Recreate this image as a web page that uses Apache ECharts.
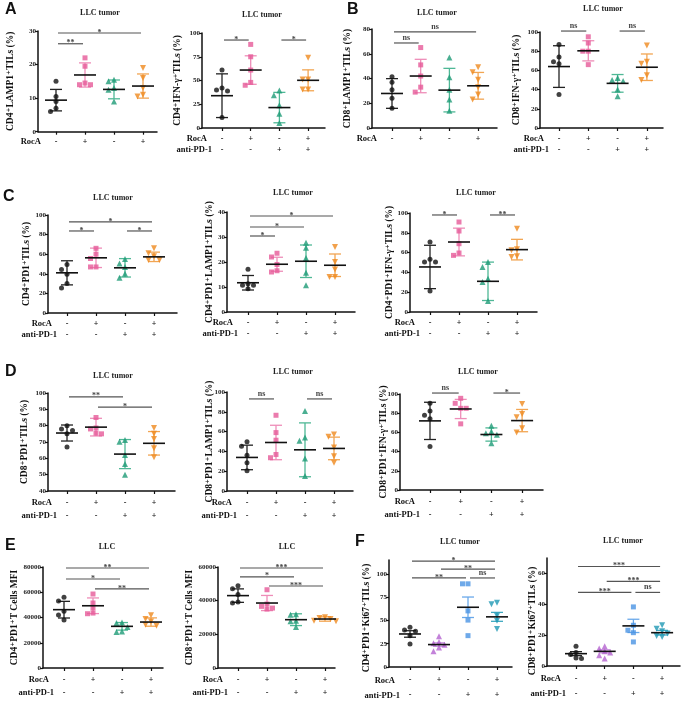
<!DOCTYPE html>
<html><head><meta charset="utf-8">
<script src="https://cdn.jsdelivr.net/npm/echarts@6/dist/echarts.min.js"></script>
<style>html,body{margin:0;padding:0;background:#fff}#c{width:685px;height:702px}</style>
</head><body><div id="c"></div>
<script>
// ---------- shared labels ----------
const rocA = ['-', '+', '-', '+'];
const antiPD1 = ['-', '-', '+', '+'];

// ---------- A (left) ----------
const A1_pts = [[15, 10.5, 9, 7, 6], [22, 19.5, 14, 14, 14.5], [15.5, 15, 13, 12.5, 9], [19, 16, 13, 11, 10.5]];
const A1_mean = [9.4, 16.9, 12.6, 13.6];
const A1_err = [3.2, 3.6, 2.8, 3.6];
const A1_sig = [[1, 4, 29.4, '*'], [1, 2, 26.2, '**']];
const A1_yticks = [0, 10, 20, 30];
// ---------- A (right) ----------
const A2_pts = [[61, 42, 40, 39, 11], [88, 75, 61, 48, 45], [39.6, 34.4, 24, 15, 5.3], [74, 51, 51, 40.5, 40.5]];
const A2_mean = [34, 61, 21.5, 50.2];
const A2_err = [23, 15, 16, 11];
const A2_sig = [[1, 2, 92.6, '*'], [3, 4, 92.6, '*']];
const A2_yticks = [0, 25, 50, 75, 100];
// ---------- B (left) ----------
const B1_pts = [[41.5, 37, 31, 24, 16], [65, 51, 42, 33, 29], [57, 41, 31, 23, 14], [49, 45, 39, 33, 27, 23]];
const B1_mean = [27.9, 42, 30.6, 34.1];
const B1_err = [12, 13.5, 17.6, 10.8];
const B1_sig = [[1, 4, 77.6, 'ns'], [1, 2, 68.7, 'ns']];
const B1_yticks = [0, 20, 40, 60, 80];
// ---------- B (right) ----------
const B2_pts = [[87, 74, 69, 67, 35], [95, 88.5, 80, 80, 66], [52, 50, 49, 40, 33], [86, 69, 67, 55, 50]];
const B2_mean = [64, 80.4, 46.5, 63.3];
const B2_err = [21.7, 10.5, 9.2, 13.8];
const B2_sig = [[1, 2, 101, 'ns'], [3, 4, 101, 'ns']];
const B2_yticks = [0, 20, 40, 60, 80, 100];
// ---------- C ----------
const C1_pts = [[49.5, 44.4, 39.6, 30, 25.6], [66, 60, 55.6, 47, 47], [55, 50.5, 47, 40, 36], [66, 61, 58, 54, 54]];
const C1_mean = [41, 56.3, 46.1, 57.3];
const C1_err = [12.3, 9.9, 9.4, 4.8];
const C1_sig = [[1, 4, 92.9, '*'], [1, 2, 83.7, '*'], [3, 4, 83.7, '*']];
const C1_yticks = [0, 20, 40, 60, 80, 100];

const C2_pts = [[17.1, 11.3, 10.7, 10.7, 9.3], [23.5, 22, 19, 16.5, 16], [27.7, 25.7, 21.6, 15.7, 10.7], [26, 20, 17, 14, 14]];
const C2_mean = [11.7, 19.1, 20.3, 18.7];
const C2_err = [2.9, 2.8, 6.5, 4.5];
const C2_sig = [[1, 4, 38.4, '*'], [1, 3, 34, '*'], [1, 2, 30.4, '*']];
const C2_yticks = [0, 10, 20, 30, 40];

const C3_pts = [[70.7, 53.2, 50.5, 50.5, 21.2], [90.9, 81.8, 69, 59.6, 57.2], [50.5, 45.5, 33.7, 30.3, 11.1], [84.2, 63.3, 62.3, 56.2, 55.6]];
const C3_mean = [45.5, 70.7, 31, 63];
const C3_err = [21.9, 14, 19.4, 10.4];
const C3_sig = [[1, 2, 98, '*'], [3, 4, 98, '**']];
const C3_yticks = [0, 20, 40, 60, 80, 100];
// ---------- D ----------
const D1_pts = [[80, 78, 77, 75, 67], [85, 78.6, 78, 75.4, 75], [71.3, 70.2, 62, 56.5, 50], [78.6, 75, 71.9, 66.1, 60.6]];
const D1_mean = [75.5, 79.1, 62.6, 69.2];
const D1_err = [4.9, 5.4, 8.9, 7.2];
const D1_sig = [[1, 3, 97.6, '**'], [2, 4, 91.4, '*']];
const D1_yticks = [40, 50, 60, 70, 80, 90, 100];

const D2_pts = [[49.7, 45.3, 36.2, 28.5, 20.5], [76.5, 59, 51.3, 36.9, 33.6], [80.9, 54, 50.7, 32.9, 15.1], [57, 54.7, 44, 35.2, 28.5]];
const D2_mean = [33.9, 49, 41.6, 43];
const D2_err = [12.4, 17.4, 27.2, 11.4];
const D2_sig = [[1, 2, 93, 'ns'], [3, 4, 93, 'ns']];
const D2_yticks = [0, 20, 40, 60, 80, 100];

const D3_pts = [[90.3, 82.4, 77.9, 74.1, 45.4], [95.5, 90.3, 85.1, 85.1, 68.9], [66.8, 60.9, 59.2, 57.5, 48.8], [89.6, 79.2, 75.8, 64.4, 59.9]];
const D3_mean = [72, 84.4, 57.8, 72.3];
const D3_err = [19.4, 10, 6.9, 11.6];
const D3_sig = [[1, 2, 101, 'ns'], [3, 4, 101, '*']];
const D3_yticks = [0, 20, 40, 60, 80, 100];
// ---------- E ----------
const E1_pts = [[56000, 53000, 45000, 42000, 38000], [58600, 51500, 47500, 43500, 43000], [36100, 35600, 32500, 29000, 28500], [41700, 38800, 36900, 34300, 33500]];
const E1_mean = [46200, 49300, 33000, 36400];
const E1_err = [6600, 6200, 3000, 3300];
const E1_sig = [[1, 4, 79200, '**'], [1, 3, 70500, '*'], [2, 4, 62600, '**']];
const E1_yticks = [0, 20000, 40000, 60000, 80000];

const E2_pts = [[48900, 47100, 43600, 39200, 38600], [46500, 38000, 36600, 35600, 35000], [32000, 31700, 28100, 27700, 24400], [30100, 29700, 29100, 28100, 27700]];
const E2_mean = [43000, 38600, 28700, 29100];
const E2_err = [4000, 4500, 3500, 1300];
const E2_sig = [[1, 4, 59400, '***'], [1, 3, 54100, '*'], [2, 4, 48700, '***']];
const E2_yticks = [0, 20000, 40000, 60000];
// ---------- F ----------
const F1_pts = [[42.6, 39.7, 38.3, 33.7, 24.8], [33, 27, 25.5, 24, 21, 17], [89.4, 89.4, 60.3, 50.4, 33.7], [69.1, 67.4, 55, 49.6, 40.8]];
const F1_mean = [35.5, 24.1, 64.2, 53.9];
const F1_err = [3.5, 1.8, 11, 4.8];
const F1_sig = [[1, 4, 113.8, '*'], [2, 4, 105.3, '**'], [1, 3, 95.7, '**'], [3, 4, 95.7, 'ns']];
const F1_yticks = [0, 25, 50, 75, 100];

const F2_pts = [[12.8, 8.7, 7.4, 5.2, 4.8], [12.8, 11.3, 9.5, 8.7, 7, 4.8], [38.3, 26.4, 23.2, 21.6, 15.6], [26.4, 24.2, 22.5, 21, 19.5, 18.8]];
const F2_mean = [8, 9.5, 26, 21.6];
const F2_err = [1.3, 1, 4.3, 1.5];
const F2_sig = [[1, 4, 64.5, '***'], [2, 4, 54.8, '***'], [1, 3, 47.7, '***'], [3, 4, 47.7, 'ns']];
const F2_yticks = [0, 20, 40, 60];

// ---------- styling ----------
const SERIF = '"Liberation Serif", "DejaVu Serif", serif';
const palettes = [
  { pt: ['#111111', '#E65A98', '#1E9B77', '#EF8A1E'], eb: ['#222222', '#EE8DB8', '#4FB896', '#F2A552'],
    sym: ['circle', 'rect', 'triangle', 'triangle'], rot: [0, 0, 0, 180] },
  { pt: ['#111111', '#B463CF', '#4A94E4', '#1F98B4'], eb: ['#222222', '#C58BDB', '#6AA9EA', '#3FA8C0'],
    sym: ['circle', 'triangle', 'rect', 'triangle'], rot: [0, 0, 0, 180] }
];

// layout: [axisLeft, axisTop, axisRight, axisBottom, firstCategoryX, categorySpacing]
const panels = [
  { layout: [38, 31, 157, 131.7, 56, 29], ymin: 0, ymax: 30, yt: A1_yticks, pts: A1_pts, mean: A1_mean, err: A1_err, sig: A1_sig, title: 'LLC tumor', tp: [100, 13], yname: 'CD4⁺LAMP1⁺TILs (%)', ynx: 11, pal: 0, anti: false, lh: 11 },
  { layout: [202, 33, 325, 128, 222, 28.7], ymin: 0, ymax: 100, yt: A2_yticks, pts: A2_pts, mean: A2_mean, err: A2_err, sig: A2_sig, title: 'LLC tumor', tp: [262, 15], yname: 'CD4⁺IFN-γ⁺TILs (%)', ynx: 178, pal: 0, anti: true, lh: 11 },
  { layout: [372, 29, 497, 128, 392, 28.7], ymin: 0, ymax: 80, yt: B1_yticks, pts: B1_pts, mean: B1_mean, err: B1_err, sig: B1_sig, title: 'LLC tumor', tp: [437, 13], yname: 'CD8⁺LAMP1⁺TILs (%)', ynx: 348, pal: 0, anti: false, lh: 11 },
  { layout: [540, 32, 663, 128, 559, 29.3], ymin: 0, ymax: 100, yt: B2_yticks, pts: B2_pts, mean: B2_mean, err: B2_err, sig: B2_sig, title: 'LLC tumor', tp: [603, 9], yname: 'CD8⁺IFN-γ⁺TILs (%)', ynx: 517, pal: 0, anti: true, lh: 11 },
  { layout: [48, 215, 177, 313, 67, 29], ymin: 0, ymax: 100, yt: C1_yticks, pts: C1_pts, mean: C1_mean, err: C1_err, sig: C1_sig, title: 'LLC tumor', tp: [113, 198], yname: 'CD4⁺PD1⁺TILs (%)', ynx: 27, pal: 0, anti: true, lh: 11 },
  { layout: [227, 212, 355, 312, 248, 29], ymin: 0, ymax: 40, yt: C2_yticks, pts: C2_pts, mean: C2_mean, err: C2_err, sig: C2_sig, title: 'LLC tumor', tp: [293, 193], yname: 'CD4⁺PD1⁺LAMP1⁺TILs (%)', ynx: 210, pal: 0, anti: true, lh: 11 },
  { layout: [410, 213, 537, 312, 430, 29], ymin: 0, ymax: 100, yt: C3_yticks, pts: C3_pts, mean: C3_mean, err: C3_err, sig: C3_sig, title: 'LLC tumor', tp: [476, 193], yname: 'CD4⁺PD1⁺IFN-γ⁺TILs (%)', ynx: 390, pal: 0, anti: true, lh: 11 },
  { layout: [48, 393, 175, 491, 67, 29], ymin: 40, ymax: 100, yt: D1_yticks, pts: D1_pts, mean: D1_mean, err: D1_err, sig: D1_sig, title: 'LLC tumor', tp: [113, 376], yname: 'CD8⁺PD1⁺TILs (%)', ynx: 25, pal: 0, anti: true, lh: 13 },
  { layout: [227, 392, 353, 491, 247, 29], ymin: 0, ymax: 100, yt: D2_yticks, pts: D2_pts, mean: D2_mean, err: D2_err, sig: D2_sig, title: 'LLC tumor', tp: [293, 372], yname: 'CD8⁺PD1⁺LAMP1⁺TILs (%)', ynx: 210, pal: 0, anti: true, lh: 13 },
  { layout: [400, 394, 543, 490, 430, 30.7], ymin: 0, ymax: 100, yt: D3_yticks, pts: D3_pts, mean: D3_mean, err: D3_err, sig: D3_sig, title: 'LLC tumor', tp: [478, 372], yname: 'CD8⁺PD1⁺IFN-γ⁺TILs (%)', ynx: 384, pal: 0, anti: true, lh: 13 },
  { layout: [43, 567, 163, 668, 64, 29], ymin: 0, ymax: 80000, yt: E1_yticks, pts: E1_pts, mean: E1_mean, err: E1_err, sig: E1_sig, title: 'LLC', tp: [107, 547], yname: 'CD4⁺PD1⁺T Cells MFI', ynx: 15, pal: 0, anti: true, lh: 13 },
  { layout: [218, 567, 335, 668, 238, 29], ymin: 0, ymax: 60000, yt: E2_yticks, pts: E2_pts, mean: E2_mean, err: E2_err, sig: E2_sig, title: 'LLC', tp: [287, 547], yname: 'CD8⁺PD1⁺T Cells MFI', ynx: 190, pal: 0, anti: true, lh: 13 },
  { layout: [389, 560, 512, 668, 410, 29], ymin: 0, ymax: 115, yt: F1_yticks, pts: F1_pts, mean: F1_mean, err: F1_err, sig: F1_sig, title: 'LLC tumor', tp: [460, 542], yname: 'CD4⁺PD1⁺Ki67⁺TILs (%)', ynx: 367, yny: 618, pal: 1, anti: true, lh: 15 },
  { layout: [547, 558, 680, 666, 576, 28.7], ymin: 0, ymax: 70, yt: F2_yticks, pts: F2_pts, mean: F2_mean, err: F2_err, sig: F2_sig, title: 'LLC tumor', tp: [623, 541], yname: 'CD8⁺PD1⁺Ki67⁺TILs (%)', ynx: 533, yny: 621, pal: 1, anti: true, lh: 15 }
];
const letters = [['A', 5, 10], ['B', 347, 10], ['C', 3, 197], ['D', 5, 372], ['E', 5, 546], ['F', 355, 542]];

// beeswarm-style horizontal spread for points that overlap vertically
function swarm(values, thr) {
  const order = values.map((v, i) => i).sort((a, b) => values[b] - values[a]);
  const placed = [];
  const off = new Array(values.length).fill(0);
  const cands = [0, -1, 1, -2, 2, -3, 3];
  order.forEach(i => {
    for (const c of cands) {
      if (!placed.some(p => p.o === c && Math.abs(p.v - values[i]) < thr)) {
        off[i] = c; placed.push({ o: c, v: values[i] }); break;
      }
    }
  });
  return off;
}

const grids = [], xAxes = [], yAxes = [], series = [], graphics = [];
panels.forEach((P, k) => {
  const [L, T, R, B, c1, s] = P.layout;
  const xmin = 1 - (c1 - L) / s;
  const xmax = 4 + (R - (c1 + 3 * s)) / s;
  grids.push({ left: L, top: T, width: R - L, height: B - T, containLabel: false });
  xAxes.push({
    gridIndex: k, type: 'value', min: xmin, max: xmax,
    axisLine: { show: true, onZero: false, lineStyle: { color: '#111', width: 1.5 } },
    axisTick: { show: true, length: 3, customValues: [1, 2, 3, 4], lineStyle: { color: '#111', width: 1.2 } },
    axisLabel: {
      customValues: [1, 2, 3, 4], margin: 5, fontSize: 8, fontWeight: 'bold', fontFamily: SERIF, color: '#111', lineHeight: P.lh,
      formatter: v => { const i = Math.round(v) - 1; return P.anti ? rocA[i] + '\n' + antiPD1[i] : rocA[i]; }
    },
    splitLine: { show: false }
  });
  const step = P.yt[1] - P.yt[0];
  yAxes.push({
    gridIndex: k, type: 'value', min: P.ymin, max: P.ymax, interval: step,
    axisLine: { show: true, onZero: false, lineStyle: { color: '#111', width: 1.5 } },
    axisTick: { show: true, length: 3, customValues: P.yt, lineStyle: { color: '#111', width: 1.2 } },
    axisLabel: { customValues: P.yt, margin: 2, fontSize: 7, fontWeight: 'bold', fontFamily: SERIF, color: '#222', formatter: v => String(v) },
    splitLine: { show: false }
  });
  const pal = palettes[P.pal];
  const pxPerUnit = (B - T) / (P.ymax - P.ymin);
  // error bars (mean ± SD/SEM)
  series.push({
    type: 'custom', xAxisIndex: k, yAxisIndex: k, z: 2, clip: false, silent: true,
    encode: { x: 0, y: 1 },
    data: P.mean.map((m, g) => [g + 1, m, P.err[g], g]),
    renderItem: (params, api) => {
      const x = api.value(0), m = api.value(1), e = api.value(2), g = api.value(3);
      const pt = api.coord([x, m + e]), pb = api.coord([x, m - e]);
      const st = { stroke: pal.eb[g], lineWidth: 1.3 };
      return { type: 'group', children: [
        { type: 'line', shape: { x1: pt[0], y1: pt[1], x2: pb[0], y2: pb[1] }, style: st },
        { type: 'line', shape: { x1: pt[0] - 6, y1: pt[1], x2: pt[0] + 6, y2: pt[1] }, style: st },
        { type: 'line', shape: { x1: pb[0] - 6, y1: pb[1], x2: pb[0] + 6, y2: pb[1] }, style: st }
      ] };
    }
  });
  // points
  P.pts.forEach((vals, g) => {
    const off = swarm(vals, 5 / pxPerUnit);
    series.push({
      type: 'scatter', xAxisIndex: k, yAxisIndex: k, z: 3, clip: false, silent: true,
      symbol: pal.sym[g], symbolRotate: pal.rot[g], symbolSize: pal.sym[g] === 'rect' ? 5 : (pal.sym[g] === 'triangle' ? 6 : 5),
      itemStyle: { color: pal.pt[g] },
      data: vals.map((v, i) => [g + 1 + off[i] * 5.5 / s, v])
    });
  });
  // mean lines
  series.push({
    type: 'custom', xAxisIndex: k, yAxisIndex: k, z: 4, clip: false, silent: true,
    encode: { x: 0, y: 1 },
    data: P.mean.map((m, g) => [g + 1, m]),
    renderItem: (params, api) => {
      const p = api.coord([api.value(0), api.value(1)]);
      return { type: 'line', shape: { x1: p[0] - 11, y1: p[1], x2: p[0] + 11, y2: p[1] }, style: { stroke: '#111', lineWidth: 1.6 } };
    }
  });
  // significance brackets
  series.push({
    type: 'custom', xAxisIndex: k, yAxisIndex: k, z: 5, clip: false, silent: true,
    encode: { x: [0, 1], y: 2 },
    data: P.sig.map(d => [d[0], d[1], d[2]]),
    renderItem: (params, api) => {
      const p1 = api.coord([api.value(0), api.value(2)]), p2 = api.coord([api.value(1), api.value(2)]);
      const lbl = P.sig[params.dataIndex][3];
      return { type: 'group', children: [
        { type: 'line', shape: { x1: p1[0] + 2, y1: p1[1], x2: p2[0] - 2, y2: p2[1] }, style: { stroke: '#555', lineWidth: 1.2 } },
        { type: 'text', x: (p1[0] + p2[0]) / 2, y: p1[1] + (lbl === 'ns' ? -1 : 3.5),
          style: { text: lbl, textAlign: 'center', textVerticalAlign: 'bottom', font: 'bold 8px ' + SERIF, fill: '#444' } }
      ] };
    }
  });
  // title
  graphics.push({ type: 'text', x: P.tp[0], y: P.tp[1], style: { text: P.title, textAlign: 'center', textVerticalAlign: 'middle', font: 'bold 8px ' + SERIF, fill: '#222' } });
  // y axis name
  graphics.push({ type: 'text', x: P.ynx, y: P.yny || (T + B) / 2, rotation: Math.PI / 2, style: { text: P.yname, textAlign: 'center', textVerticalAlign: 'middle', font: 'bold 9.5px ' + SERIF, fill: '#111' } });
  // row labels
  const rowY = B + 5 + P.lh / 2;
  graphics.push({ type: 'text', x: c1 - 15, y: rowY, style: { text: 'RocA', textAlign: 'right', textVerticalAlign: 'middle', font: 'bold 8.5px ' + SERIF, fill: '#111' } });
  if (P.anti) graphics.push({ type: 'text', x: c1 - 10, y: rowY + P.lh, style: { text: 'anti-PD-1', textAlign: 'right', textVerticalAlign: 'middle', font: 'bold 8.5px ' + SERIF, fill: '#111' } });
});
letters.forEach(l => graphics.push({ type: 'text', x: l[1], y: l[2], style: { text: l[0], textAlign: 'left', textVerticalAlign: 'middle', font: 'bold 16px "Liberation Sans", Arial, sans-serif', fill: '#111' } }));

const chart = echarts.init(document.getElementById('c'), null, { renderer: 'canvas' });
chart.setOption({ animation: false, backgroundColor: '#fff', grid: grids, xAxis: xAxes, yAxis: yAxes, series, graphic: graphics });
</script></body></html>
